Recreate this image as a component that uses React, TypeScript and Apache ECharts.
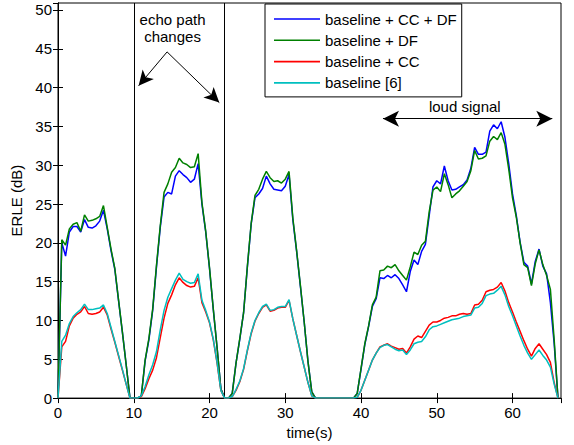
import React, { useEffect, useRef } from 'react';
import * as echarts from 'echarts';

const FONT = '"Liberation Sans", Arial, Helvetica, sans-serif';

const SERIES_NAMES = ['baseline + CC + DF', 'baseline + DF', 'baseline + CC', 'baseline [6]'];
const SERIES_COLORS = ['#0000FF', '#008000', '#FF0000', '#00BFBF'];

// ERLE (dB) sampled every 0.5 s from t = 0 s to t = 66 s
const TIME_STEP = 0.5;

const CC_DF = [
  0, 20.0, 18.3, 21.4, 22.1, 22.1, 21.4, 23.0, 22.0, 21.9, 22.2, 22.8, 24.2, 21.8, 19.0, 16.6, 12.5, 8.5, 4.3, 0,
  0, 0, 0.3, 4.8, 7.5, 11.3, 16.9, 22.0, 25.9, 26.5, 26.3, 28.6, 29.3, 28.8, 28.4, 27.8, 28.2, 30.2, 25.0, 21.4, 16.7, 11.4, 6.5, 1.2, 0,
  0, 0.6, 4.5, 7.6, 11.0, 16.9, 22.4, 25.8, 26.3, 27.0, 28.6, 27.6, 26.9, 26.8, 26.7, 27.3, 28.8, 23.0, 18.9, 14.4, 9.8, 4.7, 0.8, 0,
  0, 0, 0, 0, 0, 0, 0, 0, 0, 0,
  0.6, 3.7, 6.9, 9.2, 11.8, 12.8, 15.5, 15.4, 15.8, 15.5,
  15.9, 15.4, 14.6, 13.7, 16.3, 17.8, 17.2, 18.9, 19.8, 23.5,
  27.2, 28.0, 27.6, 29.9, 28.0, 26.8, 26.9, 27.2, 27.5, 28.1,
  29.6, 32.3, 31.4, 31.4, 31.7, 34.4, 35.2, 34.7, 35.6, 33.6,
  30.2, 26.3, 23.5, 20.1, 17.5, 17.0, 14.7, 17.6, 19.2, 17.0,
  16.0, 12.3, 7.0, 0,
];

const DF = [
  0, 20.4, 19.7, 21.8, 22.4, 22.6, 21.5, 23.6, 22.8, 22.9, 23.1, 23.4, 24.8, 22.0, 19.2, 16.7, 12.6, 8.5, 4.3, 0,
  0, 0, 0.3, 4.9, 7.7, 11.5, 17.1, 22.2, 26.5, 27.6, 29.1, 29.7, 30.9, 30.3, 30.1, 29.7, 29.8, 31.5, 25.2, 21.5, 16.8, 11.5, 6.5, 1.2, 0,
  0, 0.6, 4.5, 7.7, 11.0, 17.0, 22.5, 26.1, 26.9, 28.2, 29.2, 28.4, 27.9, 28.0, 27.7, 28.2, 29.2, 23.2, 19.0, 14.5, 9.8, 4.7, 0.8, 0,
  0, 0, 0, 0, 0, 0, 0, 0, 0, 0,
  0.6, 3.8, 7.0, 9.3, 12.0, 13.0, 16.4, 16.5, 17.0, 16.8,
  17.2, 16.4, 15.8, 15.2, 16.9, 18.8, 18.5, 19.7, 20.2, 24.0,
  26.8, 27.2, 26.6, 28.9, 27.5, 25.8, 26.3, 26.7, 27.3, 27.9,
  29.3, 31.9, 30.8, 30.9, 31.2, 33.1, 33.7, 33.3, 34.2, 32.7,
  29.5, 25.8, 23.3, 20.0, 17.2, 16.8, 14.5, 17.3, 19.1, 17.2,
  15.8, 14.0, 7.5, 0,
];

const CC = [
  0, 6.6, 7.3, 9.3, 10.3, 10.8, 11.1, 11.8, 10.9, 10.8, 10.9, 11.1, 11.7, 10.7, 8.9, 7.2, 5.4, 3.6, 1.8, 0,
  0, 0, 0.2, 1.2, 2.5, 3.6, 5.2, 7.8, 10.3, 12.2, 13.3, 14.6, 15.5, 14.9, 14.5, 14.3, 14.4, 15.5, 12.3, 11.1, 9.7, 7.5, 4.5, 1.0, 0,
  0, 0.2, 1.0, 2.1, 3.7, 6.1, 8.3, 9.9, 10.9, 11.7, 12.0, 11.2, 11.3, 11.6, 11.7, 11.7, 12.6, 10.2, 8.1, 6.0, 4.0, 2.0, 0.3, 0,
  0, 0, 0, 0, 0, 0, 0, 0, 0, 0,
  0.1, 1.0, 2.3, 3.6, 4.9, 5.8, 6.6, 6.8, 7.0, 6.7,
  6.5, 6.3, 6.4, 5.8, 6.6, 7.6, 8.0, 7.8, 8.6, 9.4,
  9.8, 9.8, 10.0, 10.3, 10.4, 10.6, 10.6, 10.8, 10.9, 10.8,
  10.9, 12.0, 12.1, 12.6, 13.7, 13.9, 14.0, 14.3, 14.9, 13.8,
  12.3, 11.1, 9.8, 8.6, 7.4, 6.3, 5.4, 6.4, 7.0, 6.3,
  5.6, 4.6, 2.0, 0,
];

const BASELINE = [
  0, 7.3, 8.1, 9.6, 10.5, 11.0, 11.4, 12.1, 11.4, 11.4, 11.5, 11.6, 12.0, 10.9, 9.1, 7.3, 5.5, 3.7, 1.8, 0,
  0, 0, 0.3, 1.5, 3.0, 4.3, 6.0, 8.8, 11.3, 13.0, 14.1, 15.2, 16.1, 15.3, 15.0, 14.8, 14.9, 16.0, 12.6, 11.3, 9.8, 7.6, 4.6, 1.0, 0,
  0, 0.2, 1.1, 2.2, 3.8, 6.2, 8.4, 10.0, 11.0, 11.8, 12.1, 11.3, 11.4, 11.7, 11.8, 11.8, 12.7, 10.2, 8.1, 6.0, 4.0, 2.0, 0.3, 0,
  0, 0, 0, 0, 0, 0, 0, 0, 0, 0,
  0.1, 1.0, 2.3, 3.6, 4.9, 5.8, 6.5, 6.8, 6.9, 6.6,
  6.3, 6.1, 6.2, 5.6, 6.2, 7.0, 7.2, 7.3, 7.9, 8.8,
  9.2, 9.3, 9.5, 9.7, 9.9, 10.1, 10.2, 10.3, 10.5, 10.6,
  10.7, 11.6, 11.7, 12.2, 13.2, 13.4, 13.5, 13.9, 14.4, 13.3,
  11.8, 10.6, 9.3, 8.0, 6.8, 5.8, 5.0, 5.6, 6.2, 5.5,
  4.9, 4.0, 1.8, 0,
];

const SERIES_VALUES = [CC_DF, DF, CC, BASELINE];

// Axis settings
const X_MIN = 0;
const X_MAX = 66.4;
const X_INTERVAL = 10;
const Y_MIN = 0;
const Y_MAX = 50.9;
const Y_INTERVAL = 5;

// Annotations (data coordinates)
const ECHO_CHANGE_TIMES = [10, 22];
const ECHO_LABEL = 'echo path\nchanges';
const ECHO_LABEL_POS = [15.12, 47.7];
const ECHO_ARROW_FROM = [14.4, 44.6];
const ECHO_ARROW_TO = [[10.64, 40.24], [21.29, 38.07]];
const LOUD_LABEL = 'loud signal';
const LOUD_LABEL_POS = [53.7, 37.6];
const LOUD_ARROW = [[42.9, 36.0], [65.25, 36.0]];

export default function App() {
  const ref = useRef<HTMLDivElement>(null);

  useEffect(() => {
    if (!ref.current) return;
    const chart = echarts.init(ref.current, undefined, { renderer: 'svg' });
    const time = CC_DF.map((_, i) => i * TIME_STEP);

    const tickFormatter = (step: number) => (v: number) =>
      Math.abs(v / step - Math.round(v / step)) < 1e-9 ? String(Math.round(v)) : '';

    const dataSeries = SERIES_NAMES.map((name, k) => ({
      name,
      type: 'line',
      data: SERIES_VALUES[k].map((v, i) => [time[i], v]),
      symbol: 'none',
      showSymbol: false,
      color: SERIES_COLORS[k],
      itemStyle: { color: SERIES_COLORS[k] },
      lineStyle: { color: SERIES_COLORS[k], width: 1.5 },
      z: 2 + k,
      silent: true,
    }));

    const arrowHead = { symbol: 'arrow', symbolSize: [11, 15] };

    const annotation = {
      name: 'annotations',
      type: 'line',
      data: [],
      color: '#000',
      silent: true,
      z: 10,
      markLine: {
        silent: true,
        animation: false,
        symbol: ['none', 'none'],
        label: { show: false },
        lineStyle: { color: '#000', width: 1, type: 'solid' },
        emphasis: { disabled: true },
        data: [
          ...ECHO_CHANGE_TIMES.map((t) => ({ xAxis: t, lineStyle: { color: '#000', width: 1 } })),
          ...ECHO_ARROW_TO.map((to) => [
            { coord: ECHO_ARROW_FROM, symbol: 'none' },
            { coord: to, ...arrowHead },
          ]),
          [
            { coord: LOUD_ARROW[0], symbol: 'arrow', symbolSize: [12, 16] },
            { coord: LOUD_ARROW[1], symbol: 'arrow', symbolSize: [12, 16] },
          ],
        ],
      },
      markPoint: {
        silent: true,
        animation: false,
        symbol: 'rect',
        symbolSize: 1,
        itemStyle: { color: 'rgba(0,0,0,0)' },
        label: {
          show: true,
          position: 'inside',
          formatter: '{b}',
          color: '#000',
          fontSize: 15,
          lineHeight: 17,
          fontFamily: FONT,
        },
        data: [
          { name: ECHO_LABEL, coord: ECHO_LABEL_POS },
          { name: LOUD_LABEL, coord: LOUD_LABEL_POS },
        ],
      },
    };

    const axisLine = { show: true, lineStyle: { color: '#000', width: 1 } };
    const axisTick = { show: true, inside: true, length: 5, lineStyle: { color: '#000', width: 1 } };
    const labelStyle = { color: '#000', fontSize: 15, fontFamily: FONT };

    chart.setOption({
      animation: false,
      textStyle: { fontFamily: FONT },
      grid: {
        left: 58,
        right: 13,
        top: 3,
        bottom: 45,
        show: true,
        borderColor: '#000',
        borderWidth: 1,
        backgroundColor: 'rgba(0,0,0,0)',
      },
      legend: {
        data: SERIES_NAMES.map((name) => ({ name, icon: 'rect' })),
        orient: 'vertical',
        left: 265,
        top: 4,
        padding: [7, 5, 6, 9],
        itemWidth: 46,
        itemHeight: 1.6,
        itemGap: 5.3,
        borderColor: '#000',
        borderWidth: 1,
        borderRadius: 0,
        backgroundColor: '#fff',
        selectedMode: false,
        textStyle: { color: '#000', fontSize: 15, lineHeight: 16, fontFamily: FONT },
        z: 20,
      },
      xAxis: [
        {
          type: 'value',
          position: 'bottom',
          min: X_MIN,
          max: X_MAX,
          interval: X_INTERVAL,
          name: 'time(s)',
          nameLocation: 'middle',
          nameGap: 20,
          nameTextStyle: labelStyle,
          axisLine,
          axisTick,
          axisLabel: { ...labelStyle, margin: 7, showMaxLabel: false, formatter: tickFormatter(X_INTERVAL) },
          splitLine: { show: false },
        },
        {
          type: 'value',
          position: 'top',
          min: X_MIN,
          max: X_MAX,
          interval: X_INTERVAL,
          axisLine,
          axisTick,
          axisLabel: { show: false },
          splitLine: { show: false },
        },
      ],
      yAxis: [
        {
          type: 'value',
          position: 'left',
          min: Y_MIN,
          max: Y_MAX,
          interval: Y_INTERVAL,
          name: 'ERLE (dB)',
          nameLocation: 'middle',
          nameGap: 27,
          nameRotate: 90,
          nameTextStyle: labelStyle,
          axisLine,
          axisTick,
          axisLabel: { ...labelStyle, margin: 6, showMaxLabel: false, formatter: tickFormatter(Y_INTERVAL) },
          splitLine: { show: false },
        },
        {
          type: 'value',
          position: 'right',
          min: Y_MIN,
          max: Y_MAX,
          interval: Y_INTERVAL,
          axisLine,
          axisTick,
          axisLabel: { show: false },
          splitLine: { show: false },
        },
      ],
      series: [...dataSeries, annotation],
    });

    return () => chart.dispose();
  }, []);

  return (
    <div
      ref={ref}
      style={{ position: 'absolute', left: 0, top: 0, width: 574, height: 445, background: '#fff' }}
    />
  );
}
